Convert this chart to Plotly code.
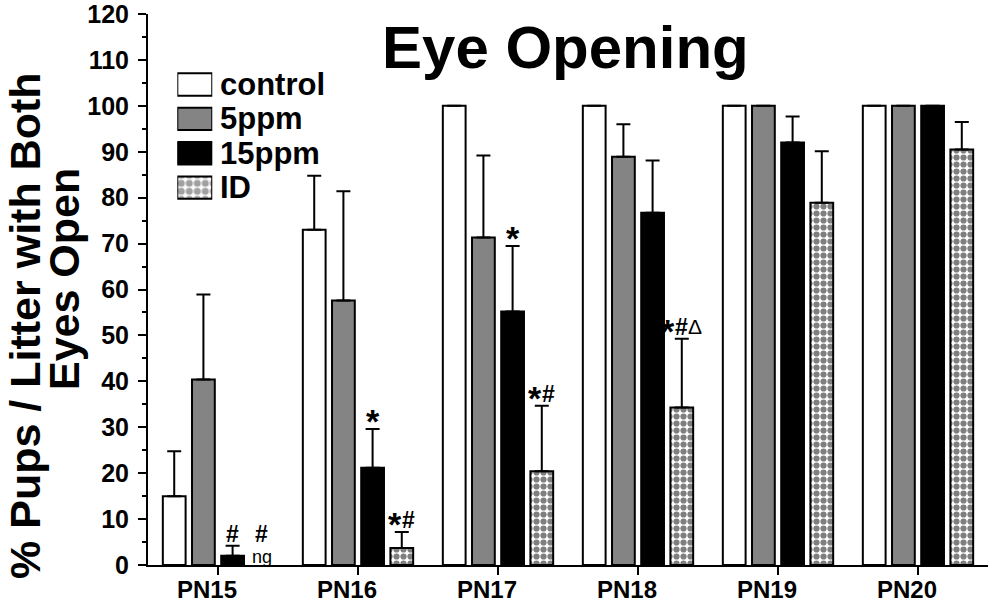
import plotly.graph_objects as go

# ---------------- data ----------------
categories = ["PN15", "PN16", "PN17", "PN18", "PN19", "PN20"]
series_names = ["control", "5ppm", "15ppm", "ID"]

control = [15.0, 73.0, 100, 100, 100, 100]
control_err = [9.8, 11.8, None, None, None, None]
ppm5 = [40.4, 57.6, 71.3, 88.9, 100, 100]
ppm5_err = [18.5, 23.8, 17.9, 7.1, None, None]
ppm15 = [2.0, 21.2, 55.2, 76.7, 92.0, 100]
ppm15_err = [2.2, 8.4, 14.3, 11.4, 5.7, None]
iron_def = [None, 3.7, 20.4, 34.3, 78.9, 90.5]
iron_def_err = [None, 3.5, 14.3, 15.0, 11.2, 6.0]

y_tick_vals = list(range(0, 121, 10))

# significance markers: category index, series index, label
sig_cat = [0, 0, 1, 1, 2, 2, 3]
sig_series = [2, 3, 2, 3, 2, 3, 3]
sig_text = ["#", "#", "*", "*#", "*", "*#", "*#Δ"]
not_graded_text = "ng"

title_text = "Eye Opening"
y_title_1 = "% Pups / Litter with Both"
y_title_2 = "Eyes Open"

# ---------------- styles ----------------
FONT = "Liberation Sans, Arial, sans-serif"
GRAY = "#848484"
BARGAP = 0.166
GROUPGAP = 0.22
LW = 2

# glyph style for significance symbols: size, weight, advance width (em), ink-centre offset (px)
GLYPH = {
    "*": (34, "bold", 0.389, 8),
    "#": (23, "bold", 0.556, 12),
    "Δ": (21, "normal", 0.68, 12),
}

values = [control, ppm5, ppm15, iron_def]
errors = [control_err, ppm5_err, ppm15_err, iron_def_err]
fills = ["white", GRAY, "black", "white"]
patterns = ["", "", "", "."]

x_idx = list(range(len(categories)))

fig = go.Figure()
for name, vals, errs, fill, pat in zip(series_names, values, errors, fills, patterns):
    marker = dict(color=fill, line=dict(color="black", width=LW))
    if pat:
        marker["pattern"] = dict(shape=pat, fgcolor="black", bgcolor="white",
                                 size=7, solidity=0.62)
    fig.add_trace(go.Bar(
        x=x_idx, y=vals, name=name, marker=marker, showlegend=False,
        error_y=dict(type="data", array=errs, arrayminus=[0] * len(errs),
                     symmetric=False, color="black", thickness=2, width=7),
    ))

# custom legend drawn as bars on a hidden axis pair
fig.add_trace(go.Bar(
    x=[1] * len(series_names), y=list(range(len(series_names))), orientation="h",
    xaxis="x2", yaxis="y2", showlegend=False, hoverinfo="skip", cliponaxis=False,
    marker=dict(color=fills, line=dict(color="black", width=LW),
                pattern=dict(shape=patterns, fgcolor="black", bgcolor=fills,
                             size=8, solidity=0.62)),
))

# ---------------- annotations ----------------
slot = (1 - BARGAP) / len(series_names)
ann = []


def add_symbols(xpos, ypos, text, base_shift):
    widths = [GLYPH[ch][0] * GLYPH[ch][2] for ch in text]
    total = sum(widths)
    left = -total / 2
    for ch, w in zip(text, widths):
        size, weight, _, yoff = GLYPH[ch]
        ann.append(dict(x=xpos, y=ypos, xref="x", yref="y", text=ch, showarrow=False,
                        xanchor="center", yanchor="middle", borderpad=0,
                        xshift=left + w / 2, yshift=base_shift + yoff,
                        font=dict(family=FONT, size=size, color="black", weight=weight)))
        left += w


for c, s, t in zip(sig_cat, sig_series, sig_text):
    xpos = c + (s - (len(series_names) - 1) / 2) * slot
    v = values[s][c]
    e = errors[s][c]
    if v is None:
        add_symbols(xpos, 0, t, 19)
        ann.append(dict(x=xpos, y=0, xref="x", yref="y", text=not_graded_text,
                        showarrow=False, yanchor="middle", yshift=8, borderpad=0,
                        font=dict(family=FONT, size=18, color="black")))
    else:
        add_symbols(xpos, v + (e or 0), t, 0)

for i, name in enumerate(series_names):
    ann.append(dict(x=0.0833, y=i, xref="paper", yref="y2", text=name, showarrow=False,
                    xanchor="left", yanchor="middle",
                    font=dict(family=FONT, size=31, color="black", weight="bold")))

ann.append(dict(x=0.4976, y=0.94, xref="paper", yref="paper", text=title_text,
                showarrow=False, xanchor="center", yanchor="middle",
                font=dict(family=FONT, size=60, color="black", weight="bold")))
ann.append(dict(x=-0.1464, y=0.434, xref="paper", yref="paper", text=y_title_1,
                showarrow=False, xanchor="center", yanchor="middle", textangle=-90,
                font=dict(family=FONT, size=43, color="black", weight="bold")))
ann.append(dict(x=-0.1, y=0.519, xref="paper", yref="paper", text=y_title_2,
                showarrow=False, xanchor="center", yanchor="middle", textangle=-90,
                font=dict(family=FONT, size=43, color="black", weight="bold")))

fig.update_layout(
    width=994, height=603,
    margin=dict(l=148, r=6, t=14, b=38, autoexpand=False),
    paper_bgcolor="white", plot_bgcolor="white",
    barmode="group", bargap=BARGAP, bargroupgap=GROUPGAP,
    showlegend=False,
    annotations=ann,
    xaxis=dict(range=[-0.5, 5.5], tickvals=x_idx, ticktext=categories,
               showline=True, linecolor="black", linewidth=2, automargin=False,
               ticks="outside", ticklen=8, tickwidth=2, tickcolor="black",
               showgrid=False, zeroline=False, ticklabelshift=-11,
               ticklabelstandoff=-6,
               tickfont=dict(family=FONT, size=24, color="black", weight="bold")),
    yaxis=dict(range=[0, 120], tickvals=y_tick_vals, automargin=False,
               showline=True, linecolor="black", linewidth=2,
               ticks="outside", ticklen=8, tickwidth=2, tickcolor="black",
               ticklabelstandoff=4, ticklabeloverflow="allow",
               minor=dict(dtick=5, ticks="outside", ticklen=4, tickwidth=2,
                          tickcolor="black", showgrid=False),
               showgrid=False, zeroline=False,
               tickfont=dict(family=FONT, size=25, color="black", weight="bold")),
    xaxis2=dict(domain=[0.0349, 0.0765], range=[0, 1], anchor="y2", visible=False,
                fixedrange=True),
    yaxis2=dict(domain=[0.6537, 0.9033], range=[3.5, -0.5], anchor="x2", visible=False,
                fixedrange=True),
)

fig.write_html("out.html", config={"displayModeBar": False},
               post_script="document.body.style.margin='0';document.body.style.padding='0';")
